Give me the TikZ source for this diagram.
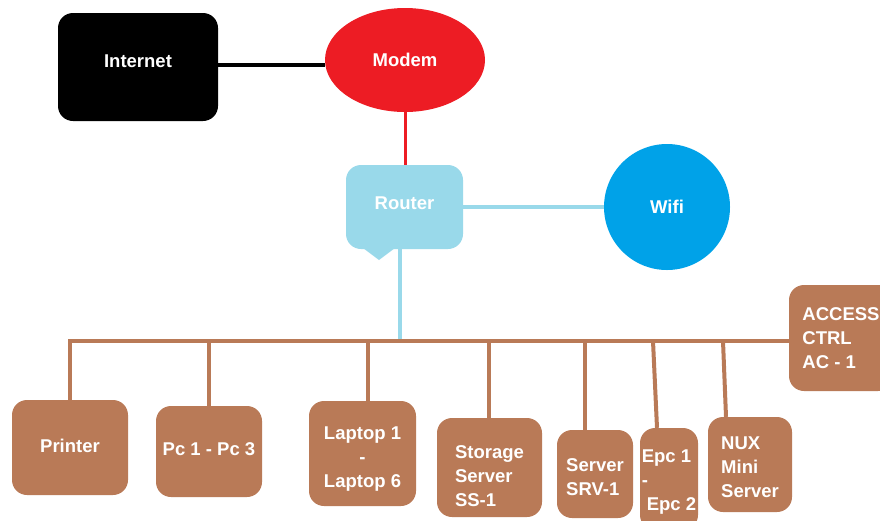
\documentclass[tikz,border=0pt]{standalone}
\usepackage{fontspec}
\setmainfont{Liberation Sans}
\usetikzlibrary{shapes.geometric}
\definecolor{netbrown}{HTML}{B97A57}
\definecolor{routerblue}{HTML}{99D9EA}
\definecolor{wifiblue}{HTML}{00A2E8}
\definecolor{modemred}{HTML}{ED1C24}
% invisible strut on a first line, lowering a label inside its box
\newcommand{\lowerby}[1]{\rule{0pt}{#1}}
\begin{document}
\begin{tikzpicture}[x=1pt,y=-1pt,
  lbl/.style={text=white,font=\fontsize{18.5}{24}\selectfont\bfseries,inner sep=0pt},
  dev/.style={lbl,rectangle,rounded corners=15pt,fill=netbrown,align=left},
  bus/.style={draw=netbrown,line width=4pt},
  blueline/.style={draw=routerblue,line width=4pt},
]
\useasboundingbox (0,0) rectangle (880,520);
\clip (0,0) rectangle (880,520);

% top of the network
\node[lbl,rectangle,rounded corners=15pt,fill=black,minimum width=160pt,minimum height=108pt,text depth=12pt]
  (internet) at (138,67) {Internet};
\node[lbl,ellipse,fill=modemred,minimum width=160pt,minimum height=104pt] (modem) at (405,60) {Modem};
\node[lbl,rectangle,rounded corners=15pt,fill=routerblue,minimum width=117pt,minimum height=84pt,text depth=8pt]
  (router) at (404.5,207) {Router};
\fill[routerblue] (363,248) -- (379,260) -- (395,248) -- cycle;
\node[lbl,circle,fill=wifiblue,minimum size=126pt] (wifi) at (667,207) {Wifi};

\draw[black,line width=3.5pt] (internet.east |- 0,65) -- (modem.west |- 0,65);
\draw[modemred,line width=3pt] (modem.south) -- (modem.south |- router.north);
\draw[blueline] (router.east) -- (wifi.west);

% devices
\node[dev,text depth=4pt,minimum width=116pt,minimum height=95pt] (printer) at (70,447.5) {Printer};
\node[dev,text depth=4pt,minimum width=106pt,minimum height=91pt] (pc) at (209,451.5) {Pc 1 - Pc 3};
\node[dev,align=center,minimum width=107pt,minimum height=105pt] (laptop) at (362.5,453.5) {\lowerby{23.5pt}Laptop 1\\-\\Laptop 6};
\node[dev,minimum width=105pt,minimum height=99pt] (storage) at (489.5,467.5) {\lowerby{29.5pt}Storage\\Server\\SS-1};
\node[dev,minimum width=76pt,minimum height=88pt] (server) at (595,474) {\lowerby{19.5pt}Server\\SRV-1};
\node[dev,minimum width=58pt,minimum height=102pt] (epc) at (669,479) {\lowerby{19.5pt}Epc 1\\-\\\hspace*{5pt}Epc 2};
\node[dev,minimum width=84pt,minimum height=95pt] (nux) at (750,464.5) {\lowerby{17.5pt}NUX\\Mini\\Server};
\node[dev,minimum width=104pt,minimum height=106pt] (access) at (841,338) {ACCESS\\CTRL\\AC - 1};

% backbone and drops
\coordinate (busy) at (0,341);
\coordinate (tapR) at (400,341);
\coordinate (tapPc) at (209,341);
\coordinate (tapL) at (368,341);
\coordinate (tapS) at (489,341);
\coordinate (tapSrv) at (585,341);
\coordinate (tapE) at (653,341);
\coordinate (tapN) at (723,341);

\draw[blueline] (tapR |- router.south) -- (tapR);
\draw[bus,line join=miter] (printer.north) -- (printer.north |- busy) -- (access.west |- busy);
\draw[bus] (tapPc) -- (tapPc |- pc.north);
\draw[bus] (tapL) -- (tapL |- laptop.north);
\draw[bus] (tapS) -- (tapS |- storage.north);
\draw[bus] (tapSrv) -- (tapSrv |- server.north);
\draw[bus] (tapE) -- ([xshift=4pt]tapE |- epc.north);
\draw[bus] (tapN) -- ([xshift=3pt]tapN |- nux.north);
\end{tikzpicture}
\end{document}
